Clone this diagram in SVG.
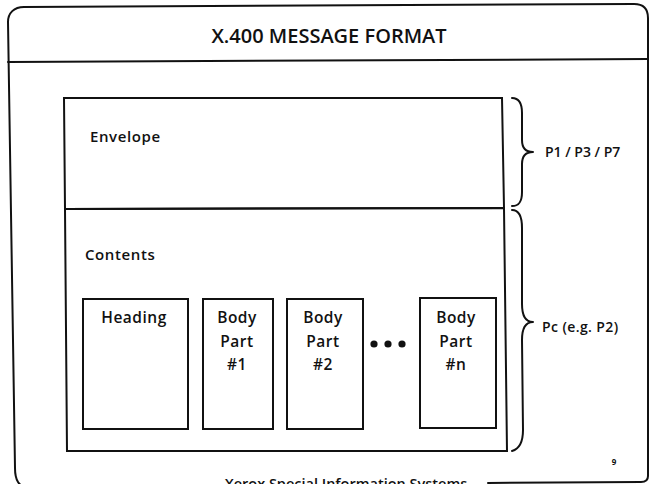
<svg xmlns="http://www.w3.org/2000/svg" width="650" height="484" viewBox="0 0 650 484">
  <style>
    .ln { fill: none; stroke: #111; stroke-width: 2; stroke-linejoin: round; stroke-linecap: round; }
    .box { fill: none; stroke: #111; stroke-width: 2; }
    .t { font-family: "Open Sans", "Liberation Sans", sans-serif; fill: #111; }
    .lab { font-size: 15px; font-weight: 600; letter-spacing: 0.6px; }
    .part { font-size: 15.5px; font-weight: 600; text-anchor: middle; letter-spacing: 0.5px; }
    .side { font-size: 14px; font-weight: 600; }
  </style>
  <rect width="650" height="484" fill="#ffffff"/>

  <g id="frame">
    <path class="ln" d="M30,490 C18,486 15,480 15,468 L8,22 C8,13 14,7 24,7 L634,4 C644,4 648,10 648,18 L648,476 C648,480 646,482 641,482 L488,483"/>
    <line class="ln" x1="8" y1="62" x2="648" y2="59"/>
    <text class="t" x="329" y="43" font-size="20" font-weight="600" text-anchor="middle">X.400 MESSAGE FORMAT</text>
    <text class="t" x="346" y="489" font-size="14.5" font-weight="600" text-anchor="middle">Xerox Special Information Systems</text>
    <text class="t" x="614" y="465" font-size="8" font-weight="700" text-anchor="middle">9</text>
  </g>

  <g id="envelope">
    <path class="box" d="M64,98 L502,98 L504,208 L65,209 Z"/>
    <text class="t lab" x="90" y="142">Envelope</text>
  </g>

  <g id="contents">
    <path class="box" d="M65,209 L504,208 L507,451 L67,451 Z"/>
    <text class="t lab" x="85" y="260">Contents</text>
  </g>

  <g id="heading">
    <rect class="box" x="83" y="299" width="105" height="130"/>
    <text class="t part" x="134" y="323">Heading</text>
  </g>

  <g id="body1">
    <rect class="box" x="203" y="299" width="70" height="130"/>
    <text class="t part" x="237" y="323">Body</text>
    <text class="t part" x="237" y="347">Part</text>
    <text class="t part" x="237" y="370">#1</text>
  </g>

  <g id="body2">
    <rect class="box" x="287" y="299" width="76" height="130"/>
    <text class="t part" x="323" y="323">Body</text>
    <text class="t part" x="323" y="347">Part</text>
    <text class="t part" x="323" y="370">#2</text>
  </g>

  <g id="ellipsis" fill="#111">
    <circle cx="374" cy="344" r="3.6"/>
    <circle cx="388" cy="344" r="3.6"/>
    <circle cx="402" cy="344" r="3.6"/>
  </g>

  <g id="bodyn">
    <rect class="box" x="420" y="298" width="76" height="130"/>
    <text class="t part" x="456" y="323">Body</text>
    <text class="t part" x="456" y="347">Part</text>
    <text class="t part" x="456" y="370">#n</text>
  </g>

  <g id="braces">
    <path class="ln" d="M512,98 C519,98 522,103 522,113 L522,140 C522,148 525,152 533,152 C525,152 522,156 522,164 L522,192 C522,202 519,206 512,206"/>
    <path class="ln" d="M512,210 C519,210 522,216 522,228 L522,304 C522,316 525,322 533,322 C525,322 522,328 522,340 L523,430 C523,442 519,449 512,451"/>
    <text class="t side" x="545" y="157">P1 / P3 / P7</text>
    <text class="t side" x="542" y="332" letter-spacing="0.4">Pc (e.g. P2)</text>
  </g>
</svg>
